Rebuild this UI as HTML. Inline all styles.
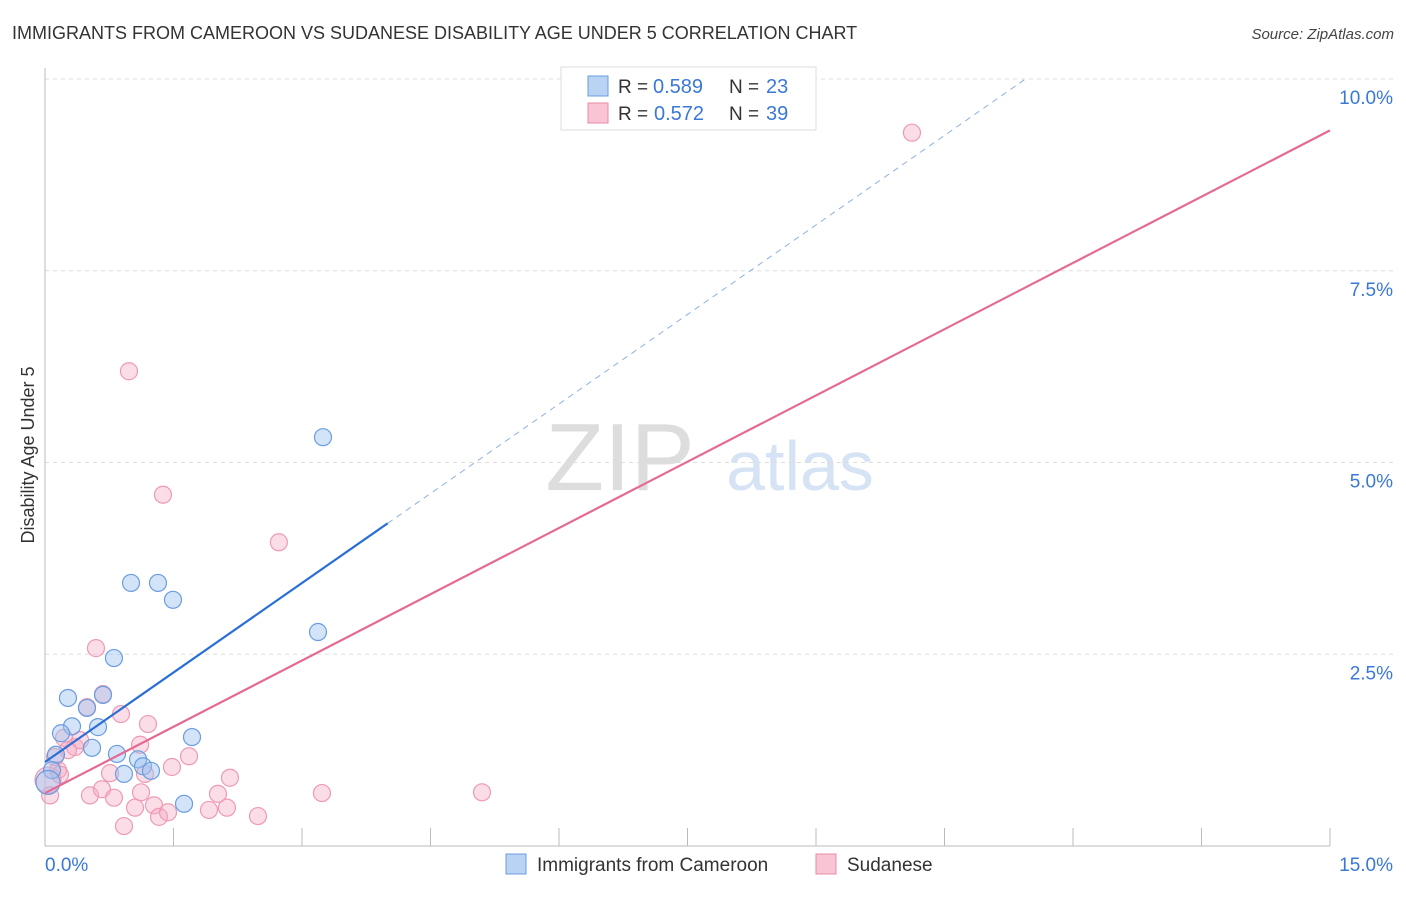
<!DOCTYPE html>
<html><head><meta charset="utf-8"><style>
body{margin:0;background:#fff;font-family:"Liberation Sans",sans-serif}
svg text{font-family:"Liberation Sans",sans-serif}
</style></head><body>
<svg id="c" width="1406" height="892">
<text x="12" y="39" font-size="18" fill="#333">IMMIGRANTS FROM CAMEROON VS SUDANESE DISABILITY AGE UNDER 5 CORRELATION CHART</text>
<text x="1394" y="39" font-size="15" fill="#444" font-style="italic" text-anchor="end">Source: ZipAtlas.com</text>
<text x="620" y="490" font-size="96" fill="#ddd" font-family="Liberation Serif" text-anchor="middle">ZIP</text>
<text x="800" y="490" font-size="70" fill="#d6e3f5" text-anchor="middle">atlas</text>
<text transform="translate(34,455) rotate(-90)" font-size="18" fill="#333" text-anchor="middle">Disability Age Under 5</text>
<g id="grid"></g><g id="pts"></g><g id="lines"></g>
<g>
<rect x="561" y="67" width="255" height="63" fill="#fff" stroke="#ddd"/>
<rect x="588" y="76" width="20" height="20" fill="#b9d3f4" stroke="#6a9de0"/>
<rect x="588" y="103" width="20" height="20" fill="#f9c5d4" stroke="#e88aa5"/>
<text x="618" y="93" font-size="19" fill="#333">R =</text>
<text x="653" y="93" font-size="20" fill="#3a78d8">0.589</text>
<text x="729" y="93" font-size="19" fill="#333">N =</text>
<text x="766" y="93" font-size="20" fill="#3a78d8">23</text>
<text x="618" y="120" font-size="19" fill="#333">R =</text>
<text x="654" y="120" font-size="20" fill="#3a78d8">0.572</text>
<text x="729" y="120" font-size="19" fill="#333">N =</text>
<text x="766" y="120" font-size="20" fill="#3a78d8">39</text>
</g>
<g>
<rect x="506" y="854" width="20" height="20" fill="#b9d3f4" stroke="#6a9de0"/>
<text x="537" y="871" font-size="19" fill="#333">Immigrants from Cameroon</text>
<rect x="816" y="854" width="20" height="20" fill="#f9c5d4" stroke="#e88aa5"/>
<text x="847" y="871" font-size="19" fill="#333">Sudanese</text>
</g>
</svg>
<script>
const blueX=[3.245,1.004,1.319,1.494,3.187,0.805,0.268,0.677,0.49,0.315,0.619,0.187,0.549,1.716,0.84,1.086,0.128,1.144,1.237,0.922,1.623,0.082,0.035];
const blueY=[5.33,3.43,3.43,3.21,2.79,2.45,1.93,1.97,1.80,1.56,1.55,1.47,1.28,1.42,1.20,1.13,1.19,1.04,0.98,0.94,0.55,0.99,0.83];
const pinkX=[10.12,0.98,1.377,2.73,0.595,0.677,0.49,0.887,1.202,0.222,0.35,0.268,1.681,1.482,2.159,0.759,1.167,0.152,0.035,0.525,0.665,0.805,1.121,1.272,1.051,2.019,2.124,1.914,1.331,1.436,0.922,2.486,3.233,5.101,0.117,0.175,0.41,1.11,0.06];
const pinkY=[9.30,6.19,4.58,3.96,2.58,1.98,1.81,1.72,1.59,1.41,1.29,1.25,1.17,1.03,0.89,0.95,0.94,0.99,0.86,0.66,0.74,0.63,0.70,0.53,0.50,0.68,0.50,0.47,0.38,0.44,0.26,0.39,0.69,0.70,1.16,0.93,1.38,1.32,0.66];
const blueFit=[1.095,0.778], pinkFit=[0.69,0.576];
const yTicks=[2.5,5,7.5,10], xTicks=[0,1.5,3,4.5,6,7.5,9,10.5,12,13.5,15];
const sx=v=>45+v/15*1285, sy=v=>846-v*76.7;
const NS="http://www.w3.org/2000/svg";
function mk(p,t,a){const e=document.createElementNS(NS,t);for(const k in a)e.setAttribute(k,a[k]);p.appendChild(e);return e;}
const g=document.getElementById('grid');
yTicks.forEach(v=>{
 const l=mk(g,'line',{x1:45,x2:1395,y1:sy(v),y2:sy(v),stroke:'#ddd','stroke-dasharray':'4,4'});
 
 
 const t=mk(g,'text',{x:1393,y:sy(v)+25,'font-size':19,fill:'#3a78d8','text-anchor':'end'});
 t.textContent=v.toFixed(1)+'%';
 
 
});
const ax=mk(g,'line',{x1:45,x2:45,y1:68,y2:846,stroke:'#bbb'});


const bx=mk(g,'line',{x1:45,x2:1330,y1:846,y2:846,stroke:'#bbb'});


xTicks.forEach(v=>{
 const l=mk(g,'line',{x1:sx(v),x2:sx(v),y1:828,y2:846,stroke:'#bbb'});
 
 
});
[[0,'0.0%','start',45],[15,'15.0%','end',1393]].forEach(([v,s,a,x])=>{
 const t=mk(g,'text',{x:x,y:871,'font-size':19,fill:'#3a78d8','text-anchor':a});
 t.textContent=s;
 
 
});
const p=document.getElementById('pts');
pinkX.forEach((x,i)=>{
 const c=mk(p,'circle',{cx:sx(x),cy:sy(pinkY[i]),r:i==18?13:8.5,fill:'rgba(246,170,195,0.4)',stroke:'#ee9ab4','stroke-width':1.2});
 
 
});
blueX.forEach((x,i)=>{
 const c=mk(p,'circle',{cx:sx(x),cy:sy(blueY[i]),r:i==22?12:8.5,fill:'rgba(160,195,240,0.45)',stroke:'#6a9de0','stroke-width':1.2});
 
 
});
const L=document.getElementById('lines');
const f=(fit,x)=>fit[0]+fit[1]*x;
const b1=mk(L,'line',{x1:sx(0),y1:sy(f(blueFit,0)),x2:sx(4.0),y2:sy(f(blueFit,4.0)),stroke:'#2a6fd6','stroke-width':2.2});


const b2=mk(L,'line',{x1:sx(4.0),y1:sy(f(blueFit,4.0)),x2:sx(11.43),y2:sy(f(blueFit,11.43)),stroke:'#8fb0e0','stroke-width':1,'stroke-dasharray':'6,5'});


const p1=mk(L,'line',{x1:sx(0),y1:sy(f(pinkFit,0)),x2:sx(15),y2:sy(f(pinkFit,15)),stroke:'#e46a93','stroke-width':2.2});


</script>
</body></html>
